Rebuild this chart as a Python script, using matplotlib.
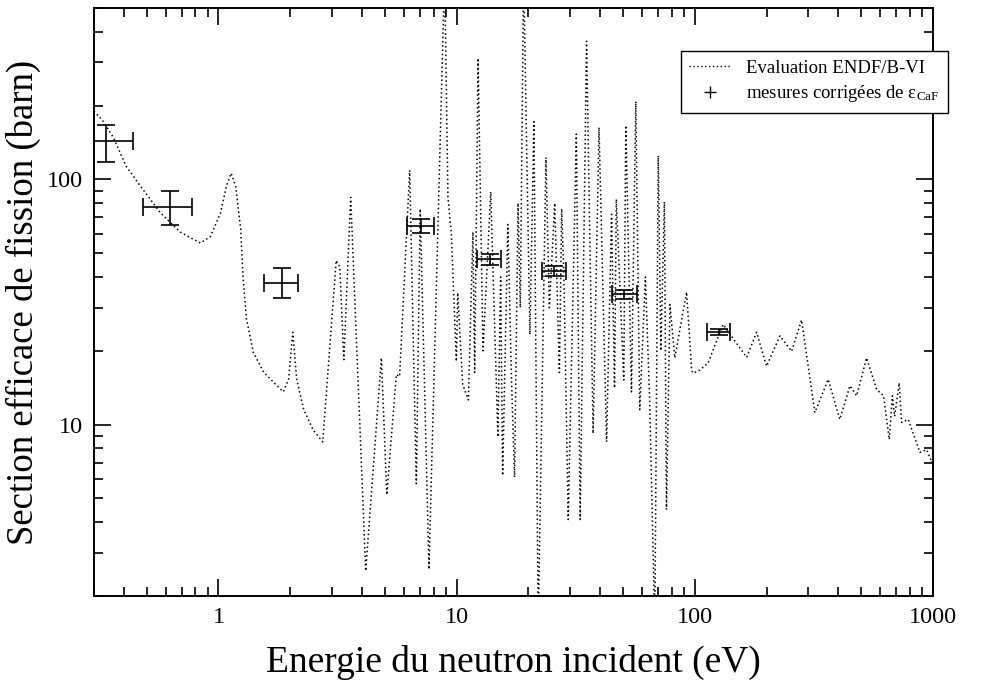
import numpy as np
import matplotlib
matplotlib.use("Agg")
import matplotlib.pyplot as plt
from matplotlib.lines import Line2D
from matplotlib.ticker import LogLocator, NullFormatter, FuncFormatter

plt.rcParams['font.family'] = 'serif'
plt.rcParams['font.serif'] = ['Liberation Serif', 'DejaVu Serif']
plt.rcParams['mathtext.fontset'] = 'stix'

# ENDF/B-VI evaluation
endf_energy = [0.30, 0.329, 0.362, 0.41, 0.47, 0.57, 0.69, 0.84, 0.925, 1.02,
               1.08, 1.13, 1.18, 1.24, 1.27, 1.31, 1.40, 1.55, 1.87, 1.97,
               2.05, 2.13, 2.28, 2.50, 2.74, 3.12, 3.23, 3.36, 3.59, 4.15,
               4.83, 5.09, 5.58, 5.76, 6.35, 6.77, 7.03, 7.65, 8.9, 9.19,
               9.5, 9.97, 10.1, 10.6, 11.2, 11.7, 11.9, 12.3, 12.9, 13.9,
               14.9, 15.3, 15.6, 16.4, 17.0, 17.5, 18.1, 18.5, 19.1, 20.3,
               21.1, 22.0, 23.7, 24.5, 25.8, 27.0, 27.6, 28.2, 29.4, 31.8,
               33.0, 35.1, 37.4, 39.6, 42.6, 44.7, 46.0, 46.8, 50.3, 51.3,
               54.2, 56.5, 58.7, 62.0, 64.6, 67.9, 70.2, 72.0, 74.5, 76.0,
               78.6, 82.4, 92.3, 97.0, 98.5, 105, 114, 121, 131.5, 144,
               165, 181.6, 200, 227.6, 254.8, 280.5, 319, 363, 406, 448,
               478, 526, 580, 620, 655, 675, 690, 721, 738, 787,
               881, 940, 990, 1000]
endf_sigma = [190, 172, 148, 113, 94, 73, 61, 55, 58.5, 73,
              94, 106, 94, 62.5, 39, 27, 19.7, 16.3, 13.6, 15.3,
              23.8, 15.3, 11.5, 9.5, 8.5, 46.7, 44, 18.4, 84.5, 2.53,
              18.7, 5.17, 16.0, 15.7, 109, 5.74, 75.8, 2.57, 700, 84.5,
              60, 18.1, 34.5, 14.6, 12.6, 61, 16.3, 312, 20, 89,
              8.9, 40, 6.2, 65.5, 15, 6.1, 80, 30, 700, 23.3,
              172, 1.5, 123, 30, 80, 16.3, 75.8, 40, 4.1, 153,
              4.1, 366, 9.2, 163, 8.5, 72, 14.1, 83, 15.2, 166,
              13.6, 208, 11.5, 40, 12.6, 1.5, 125, 20, 81, 4.5,
              30.9, 18.7, 34.7, 16.6, 16.2, 16.7, 17.9, 20.9, 25.6, 22.6,
              18.8, 23.8, 17.3, 23, 19.9, 26.7, 11.2, 15.3, 10.5, 14.4,
              13.1, 18.7, 13.9, 13.1, 8.7, 13.1, 10.8, 14.8, 10.2, 10.5,
              7.7, 7.9, 7.0, 7.2]

# corrected measurements
meas_energy = [0.337, 0.623, 1.84, 7.06, 13.76, 25.6, 50.5, 126]
meas_energy_lo = [0.298, 0.484, 1.55, 6.2, 12.2, 22.9, 45.1, 112]
meas_energy_hi = [0.436, 0.773, 2.15, 8.0, 15.4, 28.9, 56.9, 140]
meas_sigma = [143, 77.4, 37.9, 64.4, 47.2, 42.2, 34.0, 23.8]
meas_sigma_lo = [118, 65.1, 32.7, 60.6, 44.7, 40.3, 32.5, 23.1]
meas_sigma_hi = [167, 89.3, 43.6, 68.7, 49.4, 44.2, 35.5, 24.6]

e = np.array(meas_energy)
s = np.array(meas_sigma)
xerr = [e - np.array(meas_energy_lo), np.array(meas_energy_hi) - e]
yerr = [s - np.array(meas_sigma_lo), np.array(meas_sigma_hi) - s]

fig = plt.figure(figsize=(9.89, 6.83), dpi=100)
ax = fig.add_axes([0.095, 0.1274, 0.8484, 0.8609])

dots = (0, (1, 1.8))
ax.plot(endf_energy, endf_sigma, color='black', linestyle=dots, linewidth=1.1)
ax.errorbar(e, s, xerr=xerr, yerr=yerr, fmt='none', ecolor='black',
            elinewidth=1.2, capsize=6.5, capthick=1.2)

ax.set_xscale('log')
ax.set_yscale('log')
ax.set_xlim(0.3, 1000)
ax.set_ylim(2, 500)

fmt = FuncFormatter(lambda v, p: '%g' % v)
for axis in (ax.xaxis, ax.yaxis):
    axis.set_major_locator(LogLocator(base=10))
    axis.set_minor_locator(LogLocator(base=10, subs=np.arange(2, 10)))
    axis.set_major_formatter(fmt)
    axis.set_minor_formatter(NullFormatter())

ax.tick_params(which='both', direction='in', top=True, right=True, width=1.2)
ax.tick_params(which='major', length=12, labelsize=17.5, pad=8)
ax.tick_params(which='minor', length=6.5)
for sp in ax.spines.values():
    sp.set_linewidth(1.4)

ax.set_xlabel('Energie du neutron incident (eV)', fontsize=27, labelpad=12)
ax.set_ylabel('Section efficace de fission (barn)', fontsize=26.5, labelpad=4)

handles = [Line2D([], [], color='black', linestyle=dots, linewidth=1.0),
           Line2D([], [], color='black', linestyle='none', marker='+',
                  markersize=9, markeredgewidth=1.0)]
labels = ['Evaluation ENDF/B-VI',
          'mesures corrigées de ε$_{\\mathregular{CaF}}$']
leg = fig.legend(handles, labels, loc='upper left', bbox_to_anchor=(0.6886, 0.9253),
                 fontsize=13.5, frameon=True, fancybox=False, edgecolor='black',
                 framealpha=1, handlelength=2.2, handletextpad=0.8,
                 borderpad=0.45, labelspacing=0.35, borderaxespad=0)
leg.get_frame().set_linewidth(1.0)

fig.savefig('out.png', dpi=100)
